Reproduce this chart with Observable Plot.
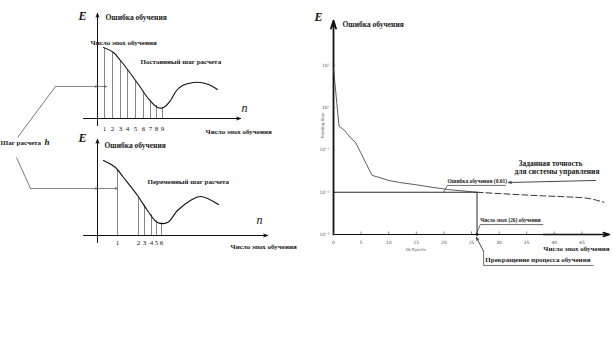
<!DOCTYPE html>
<html><head><meta charset="utf-8">
<script src="https://cdn.jsdelivr.net/npm/d3@7"></script>
<script src="https://cdn.jsdelivr.net/npm/@observablehq/plot@0.6"></script>
<style>
body{margin:0;background:#fff;}
#fig{position:relative;width:613px;height:359px;background:#fff;overflow:hidden;}
#fig svg{position:absolute;background:none !important;overflow:visible;}
</style></head><body><div id="fig"></div>
<script>
// ---------------- data ----------------
// Panel 1: constant step (schematic units: n along x, E along y)
const constCurveN = [6,16,23,33,43,50,60,66,73,79,85,96,103,111,120];
const constCurveE = [71,66,58,45,31,21,11,11,18,28,33,36,36,34,29];
const constStepN  = [7,15,23,30,38,46,53,59,65];
const constStepE  = [70,66,58,49,38,27,18,13,11];
const constStepLabels = ["1","2","3","4","5","6","7","8","9"];

// Panel 2: variable step
const varCurveN = [6,18,26,40,50,60,70,80,93,103,121];
const varCurveE = [75,68,58,40,25,13,13,25,35,39,31];
const varStepN  = [20,41,47,54,59,64];
const varStepE  = [66,39,30,21,15,13];
const varStepLabels = ["1","2","3","4","5","6"];

// Panel 3: training error (log scale) vs epochs
const trainEpochs = [0,1,2,3,4,5,6,7,8,10,12,15,18,21,26];
const trainError  = [8.5,0.37,0.29,0.2,0.15,0.083,0.045,0.025,0.023,0.019,0.017,0.015,0.013,0.0115,0.01];
const extEpochs = [26,32,38,43,46,49];
const extError  = [0.01,0.009,0.0082,0.0077,0.0072,0.0058];
const targetError = 0.01;
const stopEpoch = 26;
const xTicks = [0,5,10,15,20,25,30,35,40,45];
const yTicks = [1e-3,1e-2,1e-1,1,10];
const yTickLabels = ["10\u207B\u00B3","10\u207B\u00B2","10\u207B\u00B9","10\u2070","10\u00B9"];

// ---------------- helpers ----------------
const fig = document.getElementById("fig");
const serif = "Liberation Serif, Times New Roman, serif";
const bold = {fontFamily: serif, fontWeight: "bold", fill: "#1a1a1a"};
const zip = (a, b) => a.map((v, i) => ({x: v, y: b[i]}));
function place(svg, left, top) {
  svg.style.left = left + "px";
  svg.style.top = top + "px";
  svg.style.background = "none";
  fig.appendChild(svg);
}
function txt(items, opts) {
  return Plot.text(items, {x: "x", y: "y", text: "t", textAnchor: "start", ...opts});
}

// ---------------- panel 1 ----------------
{
  const steps = zip(constStepN, constStepE).map((d, i) => ({...d, t: constStepLabels[i]}));
  const p = Plot.plot({
    width: 300, height: 150, margin: 0,
    x: {domain: [-97, 203], axis: null},
    y: {domain: [-32, 118], axis: null},
    style: {background: "none"},
    marks: [
      Plot.ruleX(steps, {x: "x", y1: 0, y2: "y", stroke: "#555", strokeWidth: 0.7}),
      Plot.line(zip(constCurveN, constCurveE), {x: "x", y: "y", curve: "catmull-rom", stroke: "#111", strokeWidth: 1.1}),
      Plot.arrow([{x1: 0, y1: -7, x2: 0, y2: 105}, {x1: -14, y1: 0, x2: 143, y2: 0}],
        {x1: "x1", y1: "y1", x2: "x2", y2: "y2", stroke: "#111", strokeWidth: 1, headLength: 6, headAngle: 40}),
      Plot.arrow([{x1: -42, y1: 32, x2: 0, y2: 32}, {x1: 0, y1: 32, x2: 9, y2: 32}],
        {x1: "x1", y1: "y1", x2: "x2", y2: "y2", stroke: "#666", strokeWidth: 0.8, headLength: 4, headAngle: 50}),
      Plot.link([{x1: -42, y1: 32, x2: -80, y2: -19}], {x1: "x1", y1: "y1", x2: "x2", y2: "y2", stroke: "#555", strokeWidth: 0.8}),
      Plot.text(steps, {x: "x", y: -10, text: "t", fontFamily: serif, fontSize: 7, fill: "#111"}),
      txt([{x: -15, y: 102, t: "E"}], {fontFamily: serif, fontStyle: "italic", fontWeight: "bold", fontSize: 12, textAnchor: "middle", fill: "#111"}),
      txt([{x: 147, y: 10, t: "n"}], {fontFamily: serif, fontStyle: "italic", fontSize: 12, textAnchor: "middle", fill: "#111"}),
      txt([{x: 8, y: 101, t: "Ошибка обучения"}], {...bold, fontSize: 7.5}),
      txt([{x: -7, y: 76, t: "Число эпох обучения"}], {...bold, fontSize: 7}),
      txt([{x: 43, y: 57, t: "Постоянный шаг расчета"}], {...bold, fontSize: 7}),
      txt([{x: 108, y: -13, t: "Число эпох обучения"}], {...bold, fontSize: 7}),
      txt([{x: -97, y: -24, t: "Шаг расчета"}], {...bold, fontSize: 7}),
      txt([{x: -53, y: -24, t: "h"}], {fontFamily: serif, fontStyle: "italic", fontWeight: "bold", fontSize: 9, fill: "#111"})
    ]
  });
  place(p, 0, 0);
}

// ---------------- panel 2 ----------------
{
  const steps = zip(varStepN, varStepE).map((d, i) => ({...d, t: varStepLabels[i]}));
  const p = Plot.plot({
    width: 310, height: 130, margin: 0,
    x: {domain: [-97, 213], axis: null},
    y: {domain: [-25, 105], axis: null},
    style: {background: "none"},
    marks: [
      Plot.ruleX(steps, {x: "x", y1: 0, y2: "y", stroke: "#555", strokeWidth: 0.7}),
      Plot.line(zip(varCurveN, varCurveE), {x: "x", y: "y", curve: "catmull-rom", stroke: "#111", strokeWidth: 1.1}),
      Plot.arrow([{x1: 0, y1: -7, x2: 0, y2: 96}, {x1: -14, y1: 0, x2: 170, y2: 0}],
        {x1: "x1", y1: "y1", x2: "x2", y2: "y2", stroke: "#111", strokeWidth: 1, headLength: 6, headAngle: 40}),
      Plot.arrow([{x1: -67, y1: 47, x2: 0, y2: 47}, {x1: 0, y1: 47, x2: 20, y2: 47}],
        {x1: "x1", y1: "y1", x2: "x2", y2: "y2", stroke: "#666", strokeWidth: 0.8, headLength: 4, headAngle: 50}),
      Plot.link([{x1: -81, y1: 78, x2: -67, y2: 47}], {x1: "x1", y1: "y1", x2: "x2", y2: "y2", stroke: "#555", strokeWidth: 0.8}),
      Plot.text(steps, {x: "x", y: -7, text: "t", fontFamily: serif, fontSize: 7, fill: "#111"}),
      txt([{x: -15, y: 97, t: "E"}], {fontFamily: serif, fontStyle: "italic", fontWeight: "bold", fontSize: 12, textAnchor: "middle", fill: "#111"}),
      txt([{x: 162, y: 15, t: "n"}], {fontFamily: serif, fontStyle: "italic", fontSize: 12, textAnchor: "middle", fill: "#111"}),
      txt([{x: 7, y: 90, t: "Ошибка обучения"}], {...bold, fontSize: 7.5}),
      txt([{x: 50, y: 54, t: "Переменный шаг расчета"}], {...bold, fontSize: 7}),
      txt([{x: 133, y: -11, t: "Число эпох обучения"}], {...bold, fontSize: 7})
    ]
  });
  place(p, 0, 130);
}

// ---------------- panel 3 ----------------
{
  const p = Plot.plot({
    width: 313, height: 300,
    marginLeft: 33, marginRight: 4, marginTop: 65, marginBottom: 66,
    x: {domain: [0, 50], axis: null},
    y: {type: "log", domain: [1e-3, 10], axis: null},
    style: {background: "none"},
    marks: [
      // axes
      Plot.link([{x1: 0, x2: 38}], {x1: "x1", x2: "x2", y1: 1e-3, y2: 1e-3, stroke: "#111", strokeWidth: 1}),
      Plot.arrow([{x1: 38, x2: 50}], {x1: "x1", x2: "x2", y1: 1e-3, y2: 1e-3, stroke: "#111", strokeWidth: 1.4, headLength: 7, headAngle: 35}),
      Plot.arrow([{y1: 1e-3, y2: 116}], {x1: 0, x2: 0, y1: "y1", y2: "y2", stroke: "#111", strokeWidth: 1.8, headLength: 7, headAngle: 35}),
      Plot.ruleX(xTicks, {x: d => d, y1: 1e-3, y2: 1.15e-3, stroke: "#444", strokeWidth: 0.6}),
      Plot.ruleY(yTicks, {y: d => d, x1: 0, x2: 0.4, stroke: "#444", strokeWidth: 0.6}),
      Plot.text(xTicks, {x: d => d, y: 1e-3, dy: 8, text: d => String(d), fontSize: 4.5, fill: "#555", fontFamily: "DejaVu Sans"}),
      Plot.text(yTicks, {x: 0, y: d => d, dx: -4, text: (d, i) => yTickLabels[i], textAnchor: "end", fontSize: 4.5, fill: "#555", fontFamily: "DejaVu Sans"}),
      Plot.text(["Training-Blue"], {x: -2.0, y: 0.38, text: d => d, rotate: -90, fontSize: 4, fill: "#666", fontFamily: "DejaVu Sans"}),
      Plot.text(["26 Epochs"], {x: 14.9, y: 4.4e-4, text: d => d, fontSize: 4, fill: "#666", fontFamily: "DejaVu Sans"}),
      // target lines
      Plot.link([{x1: 0, x2: stopEpoch}], {x1: "x1", x2: "x2", y1: targetError, y2: targetError, stroke: "#111", strokeWidth: 0.9}),
      Plot.link([{y1: 1e-3, y2: targetError}], {x1: stopEpoch, x2: stopEpoch, y1: "y1", y2: "y2", stroke: "#111", strokeWidth: 0.9}),
      // curves
      Plot.line(zip(trainEpochs, trainError), {x: "x", y: "y", stroke: "#333", strokeWidth: 0.8}),
      Plot.line(zip(extEpochs, extError), {x: "x", y: "y", curve: "monotone-x", stroke: "#333", strokeWidth: 1, strokeDasharray: "6,3"}),
      Plot.dot([stopEpoch], {x: d => d, y: 1e-3, r: 1.4, fill: "#111"}),
      // annotations
      Plot.link([{x1: 19.9, y1: 0.0099, x2: 20.65, y2: 0.0145}, {x1: 20.65, y1: 0.0145, x2: 31.2, y2: 0.0145},
                 {x1: 25.9, y1: 0.00106, x2: 26.6, y2: 0.00172}, {x1: 26.6, y1: 0.00172, x2: 38, y2: 0.00172},
                 {x1: 27.2, y1: 1.85e-4, x2: 47.1, y2: 1.85e-4}, {x1: 27.2, y1: 1.85e-4, x2: 27.2, y2: 3.97e-4}],
        {x1: "x1", y1: "y1", x2: "x2", y2: "y2", stroke: "#333", strokeWidth: 0.7}),
      Plot.arrow([{x1: 47.5, y1: 0.019, x2: 31.7, y2: 0.017}, {x1: 27.2, y1: 3.97e-4, x2: 25.9, y2: 8.5e-4}],
        {x1: "x1", y1: "y1", x2: "x2", y2: "y2", stroke: "#333", strokeWidth: 0.9, headLength: 5, headAngle: 40}),
      txt([{x: -2.7, y: 137, t: "E"}], {fontFamily: serif, fontStyle: "italic", fontWeight: "bold", fontSize: 12, textAnchor: "middle", fill: "#111"}),
      txt([{x: 1.63, y: 93, t: "Ошибка обучения"}], {...bold, fontSize: 7.5}),
      txt([{x: 20.65, y: 0.018, t: "Ошибка обучения (0.01)"}], {...bold, fontSize: 5.5}),
      txt([{x: 33.5, y: 0.048, t: "Заданная точность"}], {...bold, fontSize: 7.5}),
      txt([{x: 32.8, y: 0.031, t: "для системы управления"}], {...bold, fontSize: 7.5}),
      txt([{x: 26.6, y: 0.00214, t: "Число эпох (26) обучения"}], {...bold, fontSize: 5.3}),
      txt([{x: 38.0, y: 4.67e-4, t: "Число эпох обучения"}], {...bold, fontSize: 7}),
      txt([{x: 27.5, y: 2.56e-4, t: "Прекращение процесса обучения"}], {...bold, fontSize: 7})
    ]
  });
  place(p, 300, 0);
}
</script></body></html>
